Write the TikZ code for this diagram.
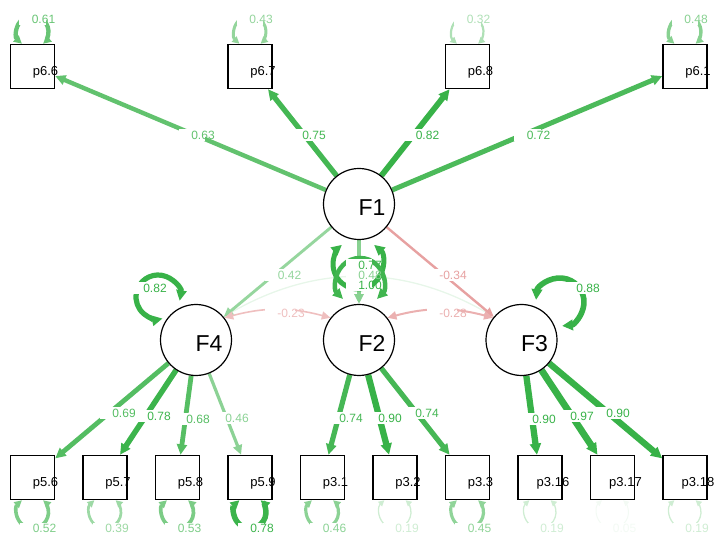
\documentclass[tikz,border=0pt]{standalone}
\usepackage{fontspec}
\setmainfont{Liberation Sans}
\usetikzlibrary{arrows.meta,calc}
\definecolor{gg}{RGB}{56,178,72}
\definecolor{rr}{RGB}{191,0,0}
\pgfdeclarelayer{bg}
\pgfsetlayers{bg,main}
\newcommand\elab[4]{%
  \node[lbg] (#1b) at (#2) {\phantom{#3}};
  \node[ltx,text=#4] (#1) at ($(#1b)+(11,0)$) {#3};}
\newcommand\toploop[4]{%
  \begin{pgfonlayer}{bg}
  \draw[sar,line width=#4pt,draw=gg!#3!white] ($(#1.north)+(-10.6,0)$) arc[start angle=228.5,end angle=-48.5,radius=16pt];
  \end{pgfonlayer}
  \elab{#1l}{$(#1.north)+(0,-24.5)$}{#2}{gg!#3!white}}
\newcommand\botloop[4]{%
  \begin{pgfonlayer}{bg}
  \draw[sar,line width=#4pt,draw=gg!#3!white] ($(#1.south)+(-10.6,0)$) arc[start angle=131.5,end angle=408.5,radius=16pt];
  \end{pgfonlayer}
  \elab{#1l}{$(#1.south)+(1,28.5)$}{#2}{gg!#3!white}}
\newcommand\mkobs[4]{%
  \node[obs] (#1) at (#2,#3) {};
  \node[ntx] (#1t) at ({#2+13},{#3+9}) {#4};}
\newcommand\mklat[4]{%
  \node[lat] (#1) at (#2,#3) {};
  \node[ftx] (#1t) at ({#2+13},{#3+11.5}) {#4};}
\begin{document}
\begin{tikzpicture}[x=1pt,y=-1pt,
  obs/.style={draw=black,line width=1.5pt,fill=white,minimum size=44pt,inner sep=0pt},
  lat/.style={circle,draw=black,line width=1.2pt,fill=white,minimum size=71pt,inner sep=0pt},
  ntx/.style={font=\fontsize{13}{13}\selectfont,anchor=base,inner sep=0pt},
  ftx/.style={font=\fontsize{23}{23}\selectfont,anchor=base,inner sep=0pt},
  lbg/.style={fill=white,inner xsep=1.5pt,inner ysep=1.5pt,font=\fontsize{12}{12}\selectfont},
  ltx/.style={inner sep=0pt,font=\fontsize{12}{12}\selectfont},
  ar/.style={-{Triangle[length=8pt 0.5,width=7pt 0.6]}},
  dar/.style={{Triangle[length=8pt 0.5,width=7pt 0.6]}-{Triangle[length=8pt 0.5,width=7pt 0.6]}},
  sar/.style={{Triangle[length=5pt 0.7,width=5pt 0.7]}-{Triangle[length=5pt 0.7,width=5pt 0.7]}},
]
\useasboundingbox (0,0) rectangle (718,534);
% latent nodes
\mklat{F1}{359}{204}{F1}
\mklat{F4}{196}{340}{F4}
\mklat{F2}{359}{340}{F2}
\mklat{F3}{521.5}{340}{F3}
% observed nodes
\mkobs{p66}{32.5}{66.5}{p6.6}
\mkobs{p67}{250}{66.5}{p6.7}
\mkobs{p68}{467.5}{66.5}{p6.8}
\mkobs{p61}{685}{66.5}{p6.1}
\mkobs{p56}{32.5}{477.5}{p5.6}
\mkobs{p57}{105}{477.5}{p5.7}
\mkobs{p58}{177.5}{477.5}{p5.8}
\mkobs{p59}{250}{477.5}{p5.9}
\mkobs{p31}{322.5}{477.5}{p3.1}
\mkobs{p32}{395}{477.5}{p3.2}
\mkobs{p33}{467.5}{477.5}{p3.3}
\mkobs{p316}{540}{477.5}{p3.16}
\mkobs{p317}{612.5}{477.5}{p3.17}
\mkobs{p318}{685}{477.5}{p3.18}
% edges
\begin{pgfonlayer}{bg}
\draw[ar,line width=4.4pt,draw=gg!79!white] (F1) -- (p66);
\draw[ar,line width=5.25pt,draw=gg!94!white] (F1) -- (p67);
\draw[ar,line width=5.7pt,draw=gg] (F1) -- (p68);
\draw[ar,line width=5.0pt,draw=gg!90!white] (F1) -- (p61);
\draw[dar,line width=1.3pt,draw=gg!12!white] (F4.40) to[out=30,in=150] (F3.140);
\draw[ar,line width=2.9pt,draw=gg!53!white] (F1) -- (F4);
\draw[ar,line width=3.4pt,draw=gg!60!white] (F1) -- (F2);
\draw[ar,line width=2.4pt,draw=rr!37!white] (F1) -- (F3);
\draw[dar,line width=1.6pt,draw=rr!25!white] (F4.38) to[out=15,in=165] (F2.142);
\draw[dar,line width=2.0pt,draw=rr!31!white] (F2.38) to[out=15,in=165] (F3.142);
\draw[ar,line width=4.8pt,draw=gg!86!white] (F4) -- (p56);
\draw[ar,line width=5.5pt,draw=gg!98!white] (F4) -- (p57);
\draw[ar,line width=4.8pt,draw=gg!85!white] (F4) -- (p58);
\draw[ar,line width=3.2pt,draw=gg!58!white] (F4) -- (p59);
\draw[ar,line width=5.2pt,draw=gg!93!white] (F2) -- (p31);
\draw[ar,line width=6.3pt,draw=gg] (F2) -- (p32);
\draw[ar,line width=5.2pt,draw=gg!93!white] (F2) -- (p33);
\draw[ar,line width=6.3pt,draw=gg] (F3) -- (p316);
\draw[ar,line width=6.8pt,draw=gg] (F3) -- (p317);
\draw[ar,line width=6.3pt,draw=gg] (F3) -- (p318);
% latent loops
\draw[dar,line width=5.2pt,draw=gg] ($(F4)+(-38,-43)+(-10:22pt)$) arc[start angle=-10,end angle=282,radius=22pt];
\draw[dar,line width=5.6pt,draw=gg] ($(F3)+(38.5,-38)+(175:24pt)$) arc[start angle=175,end angle=-85,radius=24pt];
\draw[dar,line width=5pt,draw=gg] ($(F1)+(-1,60)+(50:25pt)$) arc[start angle=50,end angle=-230,radius=25pt];
\draw[dar,line width=4.5pt,draw=gg!96!white] ($(F2)+(1,-58)+(225:24pt)$) arc[start angle=225,end angle=-45,radius=24pt];
\end{pgfonlayer}
% edge labels
\elab{l63}{192,135}{0.63}{gg!79!white}
\elab{l75}{303,135}{0.75}{gg!94!white}
\elab{l82}{416.5,135}{0.82}{gg}
\elab{l72}{527.5,135}{0.72}{gg!90!white}
\elab{l42}{278.5,275}{0.42}{gg!53!white}
\elab{l34}{442,275}{-0.34}{rr!37!white}
\elab{l23}{280,313}{-0.23}{rr!25!white}
\elab{l28}{442,313}{-0.28}{rr!31!white}
\elab{lF4}{144,288}{0.82}{gg}
\elab{lF3}{577,288}{0.88}{gg}
\elab{lF2}{359,265}{0.77}{gg!96!white}
\elab{l48}{359,275}{0.48}{gg!60!white}
\elab{lF1}{359,285}{1.00}{gg}
\elab{l69}{113,413}{0.69}{gg!86!white}
\elab{l78}{148,416}{0.78}{gg!98!white}
\elab{l68}{187,419}{0.68}{gg!85!white}
\elab{l46}{226,418}{0.46}{gg!58!white}
\elab{l74a}{340,418}{0.74}{gg!93!white}
\elab{l90a}{379,418}{0.90}{gg}
\elab{l74b}{416,413}{0.74}{gg!93!white}
\elab{l90b}{533,419}{0.90}{gg}
\elab{l97}{571,416}{0.97}{gg}
\elab{l90c}{607,413}{0.90}{gg}
% residual loops
\toploop{p66}{0.61}{76}{4.3}
\toploop{p67}{0.43}{54}{3.0}
\toploop{p68}{0.32}{40}{2.2}
\toploop{p61}{0.48}{60}{3.4}
\botloop{p56}{0.52}{65}{3.6}
\botloop{p57}{0.39}{49}{2.7}
\botloop{p58}{0.53}{66}{3.7}
\botloop{p59}{0.78}{98}{5.5}
\botloop{p31}{0.46}{58}{3.2}
\botloop{p32}{0.19}{24}{1.3}
\botloop{p33}{0.45}{56}{3.2}
\botloop{p316}{0.19}{24}{1.3}
\botloop{p317}{0.05}{6}{1}
\botloop{p318}{0.19}{24}{1.3}
\end{tikzpicture}
\end{document}
